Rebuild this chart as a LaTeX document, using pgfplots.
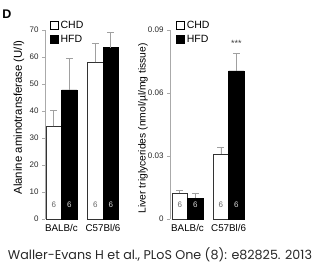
\documentclass[border=0pt]{standalone}
\usepackage{fontspec}
\setmainfont{Liberation Sans}
\newfontfamily\capfont{Poppins}
\usepackage{pgfplots}
\pgfplotsset{compat=1.18}
\definecolor{axgray}{RGB}{170,170,170}
\definecolor{errgray}{RGB}{160,160,160}
\definecolor{txt}{RGB}{40,40,40}
\pgfplotsset{
  myax/.style={
    scale only axis, width=80pt, height=189pt,
    axis y line*=left, axis x line*=bottom,
    x axis line style={draw=none}, xtick style={draw=none},
    xtick={0,1}, xticklabels={BALB/c,C57Bl/6},
    ybar=0pt, bar width=15.5pt,
    ymin=0, enlargelimits=false, clip=false,
    y axis line style={axgray, line width=0.5pt},
    ytick style={axgray, line width=0.5pt},
    tick align=outside, major tick length=3pt,
    yticklabel style={font=\fontsize{8}{9}\selectfont, text=txt},
    xticklabel style={font=\fontsize{9.8}{11}\selectfont, text=black, yshift=1pt},
    /pgf/number format/assume math mode=true,
    error bars/y dir=plus, error bars/y explicit,
    error bars/error bar style={errgray, line width=0.6pt},
    error bars/error mark options={errgray, rotate=90, mark size=3.5pt, line width=0.6pt},
    legend style={draw=none, fill=none, font=\fontsize{10.5}{11}\selectfont,
      legend cell align=left, row sep=1pt, inner sep=0pt},
    legend image code/.code={\draw[#1, draw=black, line width=0.6pt] (0pt,-3.5pt) rectangle (8pt,4pt);},
  },
  chd/.style={fill=white, draw=black!80, line width=0.6pt},
  hfd/.style={fill=black, draw=black, line width=0.6pt},
}
\begin{document}
\begin{tikzpicture}
\useasboundingbox (0,0) rectangle (317pt,269pt);
\node[font=\bfseries\fontsize{12.5}{13}\selectfont, anchor=center] at (7pt,255pt) {D};
% left panel
\begin{axis}[myax, at={(45pt,50pt)}, anchor=south west,
  xmin=-0.398, xmax=1.53, ymax=70, ytick={0,10,...,70},
  ylabel={Alanine aminotransferase (U/l)},
  ylabel style={font=\fontsize{11.4}{12}\selectfont, at={(axis description cs:-0.325,0.537)}, anchor=center, rotate=0},
  legend style={at={(axis description cs:0.06,1.058)}, anchor=north west},
]
\addplot[chd] coordinates {(0,34.3) +- (0,6.0) (1,58.0) +- (0,7.0)};
\addplot[hfd] coordinates {(0,47.8) +- (0,11.8) (1,63.5) +- (0,5.5)};
\legend{CHD,HFD}
\node[font=\fontsize{8}{9}\selectfont, text=black!60] at (axis cs:-0.187,5.2) {6};
\node[font=\fontsize{8}{9}\selectfont, text=white!85!black] at (axis cs:0.187,5.2) {6};
\node[font=\fontsize{8}{9}\selectfont, text=black!60] at (axis cs:0.813,5.2) {6};
\node[font=\fontsize{8}{9}\selectfont, text=white!85!black] at (axis cs:1.187,5.2) {6};
\end{axis}
% right panel
\begin{axis}[myax, at={(170pt,50pt)}, anchor=south west,
  xmin=-0.427, xmax=1.52, ymax=0.09, ytick={0,0.03,0.06,0.09},
  yticklabel style={/pgf/number format/fixed, /pgf/number format/precision=2},
  scaled y ticks=false,
  ylabel={Liver triglycerides (nmol/µl/mg tissue)},
  ylabel style={font=\fontsize{10.3}{11}\selectfont, at={(axis description cs:-0.3375,0.48)}, anchor=center, rotate=0},
  legend style={at={(axis description cs:0.075,1.058)}, anchor=north west},
]
\addplot[chd] coordinates {(0,0.0124) +- (0,0.0014) (1,0.031) +- (0,0.0033)};
\addplot[hfd] coordinates {(0,0.0100) +- (0,0.0024) (1,0.0705) +- (0,0.0085)};
\legend{CHD,HFD}
\node[font=\fontsize{8}{9}\selectfont, text=black!60] at (axis cs:-0.19,0.0067) {6};
\node[font=\fontsize{8}{9}\selectfont, text=white!85!black] at (axis cs:0.19,0.0067) {6};
\node[font=\fontsize{8}{9}\selectfont, text=black!60] at (axis cs:0.81,0.0067) {6};
\node[font=\fontsize{8}{9}\selectfont, text=white!85!black] at (axis cs:1.19,0.0067) {6};
\node[font=\fontsize{9}{10}\selectfont, text=black!75] at (axis cs:1.19,0.0835) {***};
\end{axis}
\node[anchor=center, text=txt] at (160pt,14pt) {\resizebox{304pt}{!}{\capfont Waller-Evans H et al., PLoS One (8): e82825. 2013}};
\end{tikzpicture}
\end{document}
